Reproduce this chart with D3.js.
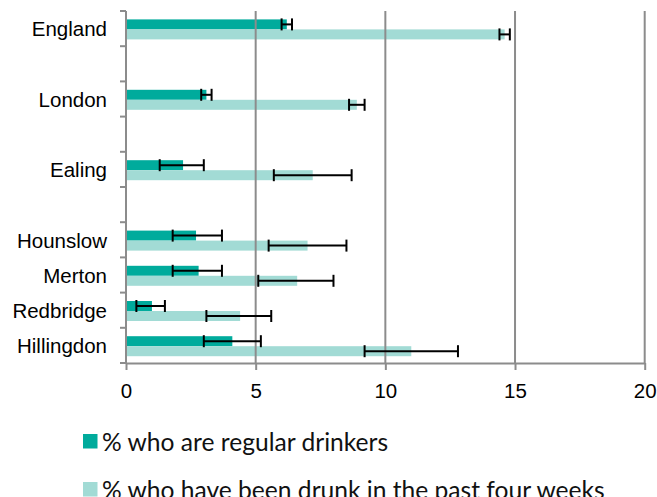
<!DOCTYPE html>
<html>
<head>
<meta charset="utf-8">
<script src="https://cdn.jsdelivr.net/npm/d3@7/dist/d3.min.js"></script>
<style>
  html, body { margin: 0; padding: 0; background: #fff; }
  svg { display: block; }
</style>
</head>
<body>
<svg id="chart" width="657" height="497"></svg>
<script>
// Category slots, top to bottom (empty strings leave a blank row)
const categories = ["England", "", "London", "", "Ealing", "", "Hounslow", "Merton", "Redbridge", "Hillingdon"];

// % who are regular drinkers, with confidence interval bounds
const regular     = [6.2, null, 3.1, null, 2.2, null, 2.7, 2.8, 1.0, 4.1];
const regularLow  = [6.0, null, 2.9, null, 1.3, null, 1.8, 1.8, 0.4, 3.0];
const regularHigh = [6.4, null, 3.3, null, 3.0, null, 3.7, 3.7, 1.5, 5.2];

// % who have been drunk in the past four weeks, with confidence interval bounds
const drunk     = [14.6, null, 8.9, null, 7.2, null, 7.0, 6.6, 4.4, 11.0];
const drunkLow  = [14.4, null, 8.6, null, 5.7, null, 5.5, 5.1, 3.1, 9.2];
const drunkHigh = [14.8, null, 9.2, null, 8.7, null, 8.5, 8.0, 5.6, 12.8];

const xTicks = [0, 5, 10, 15, 20];
const seriesNames = ["% who are regular drinkers", "% who have been drunk in the past four weeks"];
const seriesColors = ["#00ab9c", "#a2dbd5"];

const svg = d3.select("#chart");
const plotLeft = 126, plotRight = 644.7, plotTop = 11, plotBottom = 363;
const axisColor = "#8c8c8c";
const labelFont = "'Liberation Sans', Arial, sans-serif";

const x = d3.scaleLinear().domain([0, 20]).range([plotLeft, plotRight]);
const y = d3.scaleBand().domain(d3.range(categories.length)).range([plotTop, plotBottom]).padding(0);
const barH = 10;

const series = [
  { values: regular, low: regularLow, high: regularHigh, color: seriesColors[0], offset: -barH },
  { values: drunk, low: drunkLow, high: drunkHigh, color: seriesColors[1], offset: 0 }
];
const mid = i => y(i) + y.bandwidth() / 2 + 0.8;

// Bars
series.forEach(s => {
  svg.append("g").selectAll("rect")
    .data(s.values.map((v, i) => ({ v, i })).filter(d => d.v != null))
    .join("rect")
    .attr("x", x(0))
    .attr("y", d => mid(d.i) + s.offset)
    .attr("width", d => x(d.v) - x(0))
    .attr("height", barH)
    .attr("fill", s.color);
});

// Vertical gridlines
svg.append("g").selectAll("line")
  .data(xTicks.filter(t => t > 0))
  .join("line")
  .attr("x1", d => x(d)).attr("x2", d => x(d))
  .attr("y1", plotTop).attr("y2", plotBottom)
  .attr("stroke", axisColor).attr("stroke-width", 2);

// Bottom axis
const xAxis = svg.append("g")
  .attr("transform", `translate(0,${plotBottom})`)
  .call(d3.axisBottom(x).tickValues(xTicks).tickSize(7).tickPadding(13).tickSizeOuter(0));
xAxis.select(".domain").attr("stroke", axisColor).attr("stroke-width", 2);
xAxis.selectAll(".tick line").attr("stroke", axisColor).attr("stroke-width", 2);
xAxis.selectAll("text").attr("font-family", labelFont).attr("font-size", 20.5).attr("fill", "#000");

// Left axis: line plus ticks at the slot boundaries
const boundaries = d3.range(categories.length + 1).map(i => plotTop + i * y.bandwidth());
svg.append("line")
  .attr("x1", plotLeft).attr("x2", plotLeft).attr("y1", plotTop).attr("y2", plotBottom + 1)
  .attr("stroke", axisColor).attr("stroke-width", 2);
svg.append("g").selectAll("line")
  .data(boundaries)
  .join("line")
  .attr("x1", plotLeft - 6).attr("x2", plotLeft)
  .attr("y1", d => d).attr("y2", d => d)
  .attr("stroke", axisColor).attr("stroke-width", 2);

// Category labels
svg.append("g").selectAll("text")
  .data(categories.map((c, i) => ({ c, i })).filter(d => d.c))
  .join("text")
  .attr("x", 107)
  .attr("y", d => mid(d.i) + 7)
  .attr("text-anchor", "end")
  .attr("font-family", labelFont)
  .attr("font-size", 20.5)
  .attr("fill", "#000")
  .text(d => d.c);

// Error bars
series.forEach(s => {
  const g = svg.append("g").attr("stroke", "#000").attr("stroke-width", 2);
  s.values.forEach((v, i) => {
    if (v == null) return;
    const cy = mid(i) + s.offset + barH / 2;
    const x1 = x(s.low[i]), x2 = x(s.high[i]);
    g.append("line").attr("x1", x1).attr("x2", x2).attr("y1", cy).attr("y2", cy);
    [x1, x2].forEach(cx => {
      g.append("line").attr("x1", cx).attr("x2", cx).attr("y1", cy - 6).attr("y2", cy + 6);
    });
  });
});

// Legend
const legend = svg.append("g");
seriesNames.forEach((name, i) => {
  const ly = 434 + i * 48;
  legend.append("rect")
    .attr("x", 83).attr("y", ly).attr("width", 14.5).attr("height", 14.5)
    .attr("fill", seriesColors[i]);
  legend.append("text")
    .attr("x", 102).attr("y", ly + 16.5)
    .attr("font-family", "Lato, 'Open Sans', sans-serif")
    .attr("font-size", 24.6)
    .attr("fill", "#111")
    .text(name);
});
</script>
</body>
</html>
